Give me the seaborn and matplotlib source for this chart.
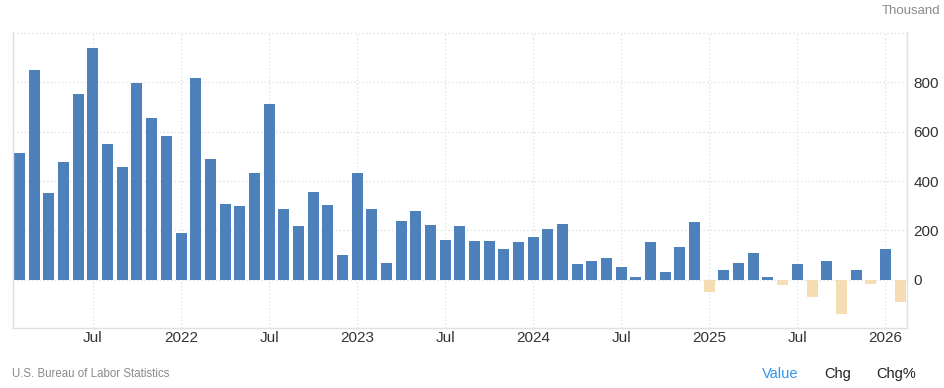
import matplotlib
matplotlib.use("Agg")
import matplotlib.pyplot as plt
import numpy as np
import pandas as pd
import seaborn as sns

# %%
# monthly change, thousands (Feb 2021 - Feb 2026)
months = pd.date_range("2021-02-01", "2026-02-01", freq="MS").strftime("%Y-%m").tolist()
values = [
    513, 850, 351, 477, 752, 939, 550, 457, 797, 655, 582,
    189, 817, 489, 307, 299, 432, 712, 286, 218, 355, 303, 100,
    432, 286, 68, 238, 278, 222, 161, 218, 157, 157, 124, 153,
    173, 205, 226, 63, 76, 88, 51, 11, 153, 31, 132, 234,
    -50, 39, 68, 108, 11, -22, 63, -70, 76, -139, 39, -18,
    124, -91,
]
tick_labels = ["Jul", "2022", "Jul", "2023", "Jul", "2024", "Jul", "2025", "Jul", "2026"]
tick_idx = [5, 11, 17, 23, 29, 35, 41, 47, 53, 59]
y_ticks = [0, 200, 400, 600, 800]

df = pd.DataFrame({"month": months, "value": values})
df["sign"] = np.where(df["value"] >= 0, "pos", "neg")

# %%
sns.set_style("white")
plt.rcParams["font.family"] = ["Liberation Sans", "DejaVu Sans"]

fig = plt.figure(figsize=(9.44, 3.88), dpi=100)
ax = fig.add_axes([0.01345, 0.1539, 0.9470, 0.7629])

sns.barplot(
    data=df, x="month", y="value", hue="sign",
    palette={"pos": "#4e80bc", "neg": "#f5dcb2"},
    dodge=False, width=0.75, legend=False, ax=ax,
    saturation=1, order=months, linewidth=0,
)

ax.set_xlim(-0.47, 60.45)
ax.set_ylim(-197, 1003)

ax.set_xticks(tick_idx)
ax.set_xticklabels(tick_labels, fontsize=11, color="#333333")
ax.yaxis.tick_right()
ax.set_yticks(y_ticks)
ax.set_yticklabels([str(t) for t in y_ticks], fontsize=11, color="#333333")
ax.tick_params(axis="both", length=0)
ax.tick_params(axis="x", pad=2)
ax.tick_params(axis="y", pad=5)
ax.set_xlabel("")
ax.set_ylabel("")

# dotted grid
for yv in y_ticks + [1000]:
    ax.axhline(yv, color="#dddddd", lw=0.9, ls=(0, (1, 2)), zorder=0)
for xv in tick_idx:
    ax.axvline(xv, color="#dddddd", lw=0.9, ls=(0, (1, 2)), zorder=0)

for side in ["left", "bottom", "right"]:
    ax.spines[side].set_visible(True)
    ax.spines[side].set_color("#e0e0e0")
    ax.spines[side].set_linewidth(1)
ax.spines["top"].set_visible(False)

# texts
fig.text(0.9958, 0.972, "Thousand", ha="right", va="center", fontsize=9.5, color="#8a8a8a")
fig.text(0.0127, 0.036, "U.S. Bureau of Labor Statistics", ha="left", va="center",
         fontsize=8.3, color="#8a8a8a")
fig.text(0.807, 0.036, "Value", ha="left", va="center", fontsize=10.5, color="#2f95f0")
fig.text(0.873, 0.036, "Chg", ha="left", va="center", fontsize=10.5, color="#222222")
fig.text(0.928, 0.036, "Chg%", ha="left", va="center", fontsize=10.5, color="#222222")

fig.savefig("out.png", dpi=100)
